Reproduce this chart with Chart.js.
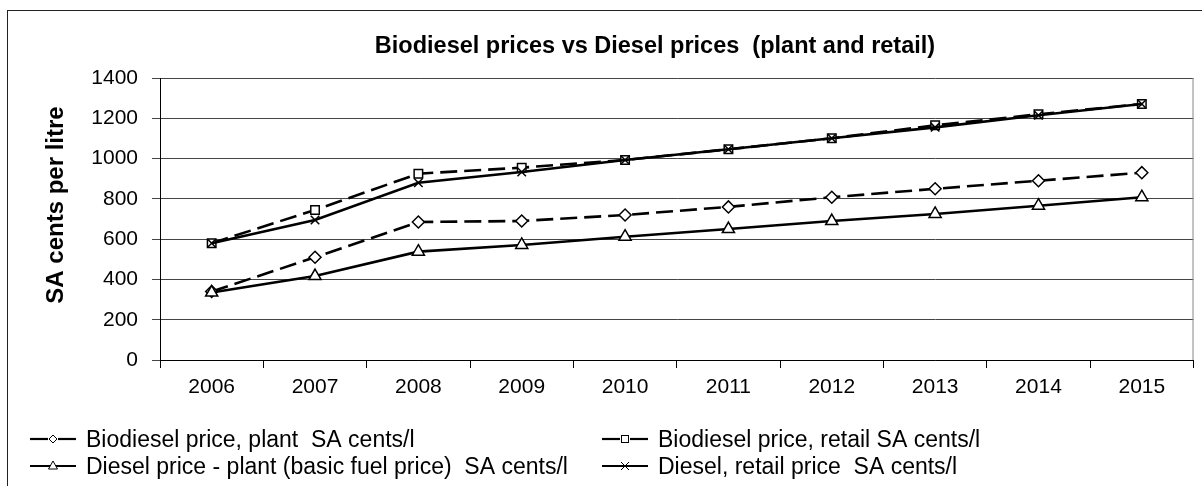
<!DOCTYPE html>
<html>
<head>
<meta charset="utf-8">
<script src="https://cdn.jsdelivr.net/npm/chart.js@4"></script>
<style>
  body { margin: 0; background: #fff; }
  #wrap { position: relative; width: 1202px; height: 486px; overflow: hidden; font-family: "Liberation Sans", Arial, sans-serif; }
  #frame { position: absolute; left: 7px; top: 10px; width: 1300px; height: 600px; border: 1.5px solid #222; }
  canvas { position: absolute; left: 0; top: 0; }
  .item { position: absolute; display: flex; align-items: center; font-size: 23px; white-space: nowrap; height: 26px; color: #000; }
  .item svg { margin-right: 10px; }
</style>
</head>
<body>
<div id="wrap">
  <div id="frame"></div>
  <canvas id="c" width="1202" height="486"></canvas>
  <div id="legend"></div>
</div>
<script>
const years = ['2006', '2007', '2008', '2009', '2010', '2011', '2012', '2013', '2014', '2015'];
const bioPlant = [340, 510, 685, 690, 720, 760, 808, 850, 890, 930];
const bioRetail = [580, 745, 925, 955, 993, 1046, 1101, 1165, 1220, 1271];
const dieselPlant = [335, 417, 538, 571, 612, 650, 690, 725, 766, 808];
const dieselRetail = [580, 695, 880, 933, 993, 1046, 1101, 1155, 1215, 1271];

const chartTitle = 'Biodiesel prices vs Diesel prices  (plant and retail)';
const yTitle = 'SA cents per litre';
const FONT = '"Liberation Sans", Arial, sans-serif';
const DASH = [17, 7];

const series = [
  { label: 'Biodiesel price, plant  SA cents/l', data: bioPlant, dash: DASH, marker: 'rectRot', radius: 6, order: 3 },
  { label: 'Biodiesel price, retail SA cents/l', data: bioRetail, dash: DASH, marker: 'rect', radius: 6, order: 2 },
  { label: 'Diesel price - plant (basic fuel price)  SA cents/l', data: dieselPlant, dash: [], marker: 'triangle', radius: 7, order: 1 },
  { label: 'Diesel, retail price  SA cents/l', data: dieselRetail, dash: [], marker: 'crossRot', radius: 6, order: 0 },
];

// chart title and y axis title sit where Excel put them, not centred on the plot
const titlesPlugin = {
  id: 'excelTitles',
  afterDraw(chart) {
    const ctx = chart.ctx;
    ctx.save();
    ctx.fillStyle = '#000';
    ctx.textAlign = 'center';
    ctx.textBaseline = 'middle';
    ctx.font = 'bold 23.5px ' + FONT;
    ctx.fillText(chartTitle, 655, 47);
    ctx.translate(56, 205);
    ctx.rotate(-Math.PI / 2);
    ctx.font = 'bold 24px ' + FONT;
    ctx.fillText(yTitle, 0, 0);
    ctx.restore();
  },
};

// right edge of the plot area
const frameRight = {
  id: 'frameRight',
  beforeDatasetsDraw(chart) {
    const { ctx, chartArea: a } = chart;
    ctx.save();
    ctx.strokeStyle = '#888';
    ctx.lineWidth = 1;
    ctx.beginPath();
    ctx.moveTo(a.right - 0.5, a.top);
    ctx.lineTo(a.right - 0.5, a.bottom);
    ctx.stroke();
    ctx.restore();
  },
};

const chart = new Chart(document.getElementById('c'), {
  type: 'line',
  data: {
    labels: years,
    datasets: series.map((s) => ({
      label: s.label,
      data: s.data,
      borderColor: '#000',
      borderWidth: 2.6,
      borderDash: s.dash,
      pointStyle: s.marker,
      pointRadius: s.radius,
      pointBackgroundColor: '#fff',
      pointBorderColor: '#000',
      pointBorderWidth: 1.5,
      tension: 0,
      order: s.order,
    })),
  },
  options: {
    responsive: false,
    animation: false,
    layout: { padding: { top: 78, right: 3, bottom: 76, left: 0 } },
    plugins: {
      legend: { display: false },
      tooltip: { enabled: false },
    },
    scales: {
      x: {
        offset: true,
        grid: { offset: true, drawOnChartArea: false, drawTicks: true, tickLength: 8, color: '#000' },
        border: { color: '#000', width: 1 },
        ticks: { color: '#000', font: { family: FONT, size: 21 }, padding: 7, maxRotation: 0 },
        afterFit: (s) => { s.height = 50; },
      },
      y: {
        min: 0,
        max: 1400,
        ticks: {
          stepSize: 200,
          color: '#000',
          font: { family: FONT, size: 21 },
          padding: 14,
          callback: (v) => String(v),
        },
        grid: { color: '#444', tickLength: 8 },
        border: { color: '#000', width: 1 },
        afterFit: (s) => { s.width = 160; },
      },
    },
  },
  plugins: [titlesPlugin, frameRight],
});

// legend: line sample with marker + text, two columns like the original
function swatch(s) {
  const w = 46, h = 14, cy = 7, cx = 23;
  let line;
  if (s.dash.length) {
    line = `<line x1="0" y1="${cy}" x2="18" y2="${cy}" stroke="#000" stroke-width="2.2"/>` +
      `<line x1="28" y1="${cy}" x2="${w}" y2="${cy}" stroke="#000" stroke-width="2.2"/>`;
  } else {
    line = `<line x1="0" y1="${cy}" x2="${w}" y2="${cy}" stroke="#000" stroke-width="2"/>`;
  }
  let m = '';
  if (s.marker === 'rectRot') m = `<polygon points="${cx},${cy - 4} ${cx + 4},${cy} ${cx},${cy + 4} ${cx - 4},${cy}" fill="#fff" stroke="#000" stroke-width="1"/>`;
  if (s.marker === 'rect') m = `<rect x="${cx - 3.5}" y="${cy - 3.5}" width="7" height="7" fill="#fff" stroke="#000" stroke-width="1"/>`;
  if (s.marker === 'triangle') m = `<polygon points="${cx},${cy - 5} ${cx + 4.5},${cy + 3} ${cx - 4.5},${cy + 3}" fill="#fff" stroke="#000" stroke-width="1"/>`;
  if (s.marker === 'crossRot') m = `<path d="M${cx - 4},${cy - 4}L${cx + 4},${cy + 4}M${cx + 4},${cy - 4}L${cx - 4},${cy + 4}" stroke="#000" stroke-width="1"/>`;
  return `<svg width="${w}" height="${h}">${line}${m}</svg>`;
}

const legendCols = [30, 602];
const legendRows = [439, 466];
const legend = document.getElementById('legend');
series.forEach((s, i) => {
  const el = document.createElement('div');
  el.className = 'item';
  el.style.left = legendCols[i % 2] + 'px';
  el.style.top = (legendRows[Math.floor(i / 2)] - 13) + 'px';
  el.innerHTML = swatch(s) + '<span>' + s.label.replace(/ /g, '&nbsp;') + '</span>';
  legend.appendChild(el);
});
</script>
</body>
</html>
